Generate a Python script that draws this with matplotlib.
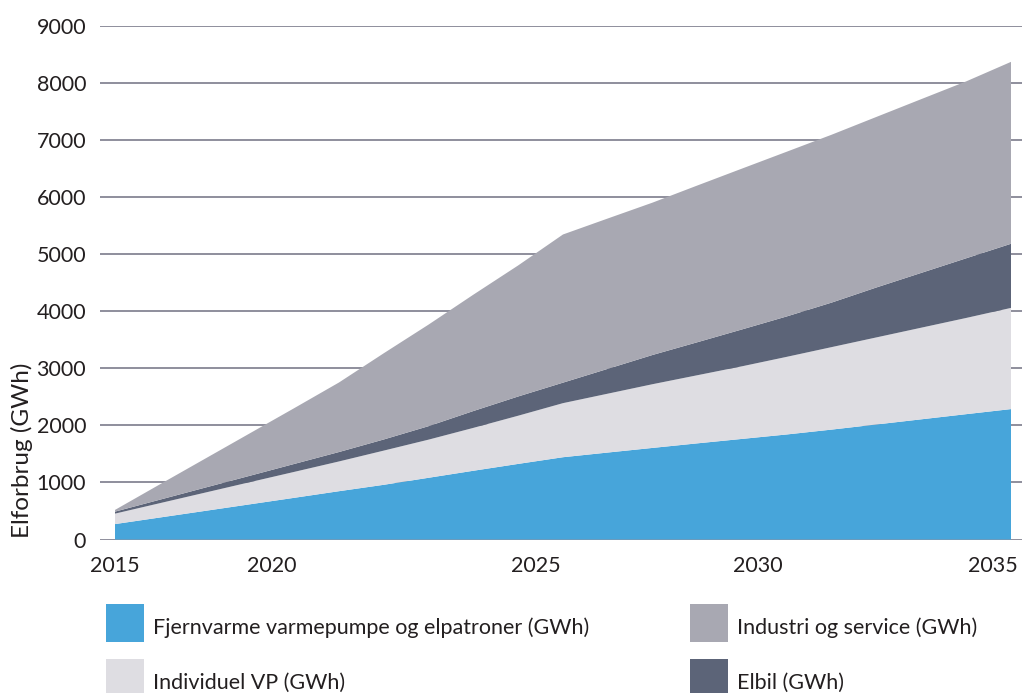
import matplotlib
matplotlib.use("Agg")
import matplotlib.pyplot as plt
from matplotlib.patches import Rectangle
import numpy as np

years = list(range(2015, 2036))
fjernvarme = [270, 385, 500, 615, 730, 846, 958, 1081, 1204, 1324, 1441,
              1523, 1604, 1684, 1762, 1840, 1925, 2015, 2105, 2195, 2284]
individuel = [183, 251, 319, 387, 454, 521, 599, 668, 751, 844, 947,
              1031, 1116, 1193, 1272, 1360, 1445, 1525, 1605, 1685, 1772]
elbil = [35, 61, 87, 112, 139, 165, 195, 236, 295, 337, 359,
         435, 512, 578, 646, 708, 780, 875, 960, 1045, 1123]
industri = [30, 268, 504, 741, 977, 1218, 1510, 1779, 2038, 2295, 2595,
            2633, 2668, 2745, 2817, 2885, 2940, 2987, 3043, 3098, 3186]

series_names = ["Fjernvarme varmepumpe og elpatroner (GWh)", "Individuel VP (GWh)",
                "Elbil (GWh)", "Industri og service (GWh)"]
colors = ["#47a5da", "#dedde2", "#5c6478", "#a8a8b2"]

# tick labels sit where the reference places them
xtick_pos = [2015, 2018.5, 2024.4, 2029.35, 2034.6]
xtick_lab = ["2015", "2020", "2025", "2030", "2035"]
yticks = list(range(0, 9001, 1000))

plt.rcParams["font.family"] = ["Lato", "DejaVu Sans"]
TXT = "#231f20"
GRID = "#8e8e9c"
FS = 15.5

W, H = 1030, 693
fig = plt.figure(figsize=(W / 100, H / 100), dpi=100)
ax = fig.add_axes([100 / W, 1 - 539.5 / H, 922 / W, (539.5 - 25.6) / H])

ax.stackplot(years, fjernvarme, individuel, elbil, industri,
             colors=colors, linewidth=0, zorder=3)

ax.set_xlim(2015 - 15 / 44.8, 2035 + 11 / 44.8)
ax.set_ylim(0, 9000)
ax.set_yticks(yticks)
ax.set_yticklabels([str(v) for v in yticks], fontsize=FS, color=TXT)
ax.set_xticks(xtick_pos)
ax.set_xticklabels(xtick_lab, fontsize=FS, color=TXT)
ax.tick_params(axis="both", length=0)
ax.tick_params(axis="y", pad=10)
ax.tick_params(axis="x", pad=12)
ax.grid(axis="y", color=GRID, linewidth=1.4, zorder=1)
ax.set_axisbelow(True)
for sp in ax.spines.values():
    sp.set_visible(False)

fig.text(22 / W, 1 - 450 / H, "Elforbrug (GWh)", rotation=90, ha="center",
         va="center", fontsize=17.5, color=TXT)

# legend, two columns
legend_order = [0, 3, 1, 2]
slots = [(106, 604), (690, 604), (106, 659), (690, 659)]
for idx, (px, py) in zip(legend_order, slots):
    fig.add_artist(Rectangle((px / W, 1 - (py + 38) / H), 38 / W, 38 / H,
                             transform=fig.transFigure, facecolor=colors[idx],
                             edgecolor="none"))
    fig.text((px + 47) / W, 1 - (py + 24) / H, series_names[idx],
             ha="left", va="center", fontsize=FS, color=TXT)

fig.savefig("out.png", dpi=100, facecolor="white")
